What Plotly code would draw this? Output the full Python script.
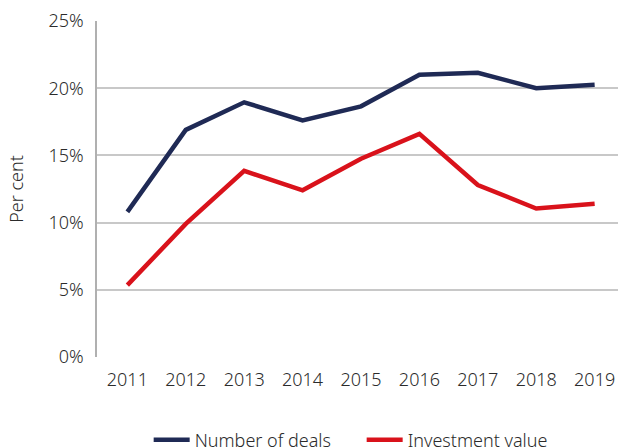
import plotly.graph_objects as go

years = [2011, 2012, 2013, 2014, 2015, 2016, 2017, 2018, 2019]
number_of_deals = [10.8, 16.9, 18.95, 17.6, 18.65, 21.0, 21.15, 20.0, 20.25]
investment_value = [5.35, 9.9, 13.85, 12.4, 14.75, 16.6, 12.8, 11.05, 11.4]
y_ticks = [0, 5, 10, 15, 20, 25]
y_tick_labels = ["0%", "5%", "10%", "15%", "20%", "25%"]

font_family = "Noto Sans, Open Sans, sans-serif"
text_color = "#2b2b2b"

fig = go.Figure()
fig.add_trace(go.Scatter(x=years, y=number_of_deals, mode="lines", name="Number of deals",
                         line=dict(color="#1f2a55", width=4.5)))
fig.add_trace(go.Scatter(x=years, y=investment_value, mode="lines", name="Investment value",
                         line=dict(color="#d9121b", width=4.5)))

fig.update_layout(
    width=618, height=448,
    margin=dict(l=97, r=0, t=21, b=91, autoexpand=False),
    paper_bgcolor="white", plot_bgcolor="white",
    font=dict(family=font_family, size=18, color=text_color, weight=300),
    showlegend=True,
    legend=dict(orientation="h", x=0.508, xanchor="center", yref="container",
                y=0.018, yanchor="middle", entrywidth=162, itemwidth=36,
                font=dict(size=18), traceorder="normal"),
    xaxis=dict(range=[-0.52 + 2011, 8.4 + 2011], tickmode="array", tickvals=years,
               ticktext=[str(y) for y in years], showgrid=False, zeroline=False,
               showline=False, ticks="", ticklabelstandoff=10, automargin=False),
    yaxis=dict(range=[0, 25], tickmode="array", tickvals=y_ticks, ticktext=y_tick_labels,
               showgrid=True, gridcolor="#c8c8c8", gridwidth=1.5, zeroline=False,
               showline=True, linecolor="#b0b0b0", linewidth=1.5, ticks="",
               ticklabelstandoff=8, automargin=False,
               title=dict(text="Per cent", font=dict(size=18), standoff=20)),
)
fig.write_html("out.html", config={"displayModeBar": False},
               post_script="document.body.style.margin='0';document.body.style.overflow='hidden';")
